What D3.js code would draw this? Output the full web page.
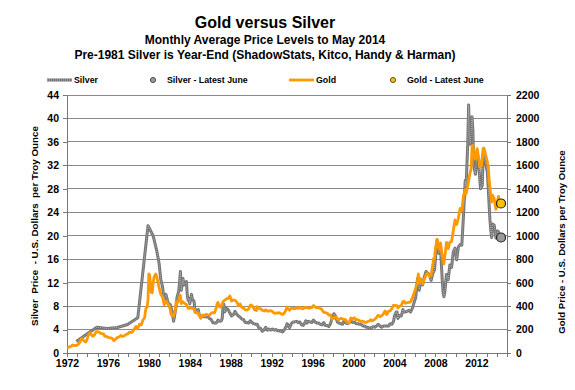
<!DOCTYPE html>
<html><head><meta charset="utf-8">
<script src="https://cdn.jsdelivr.net/npm/d3@7"></script>
<style>
html,body{margin:0;padding:0;background:#fff;}
svg{display:block;font-family:"Liberation Sans",Arial,sans-serif;font-weight:bold;}
</style></head>
<body>
<script>
const titleLines = ["Gold versus Silver","Monthly Average Price Levels to May 2014","Pre-1981 Silver is Year-End (ShadowStats, Kitco, Handy & Harman)"];
const legendLabels = ["Silver","Silver - Latest June","Gold","Gold - Latest June"];
const leftAxisTitle = "Silver  Price  - U.S. Dollars  per Troy Ounce";
const rightAxisTitle = "Gold Price - U.S. Dollars per Troy Ounce";
const silverTicks = [0,4,8,12,16,20,24,28,32,36,40,44];
const goldTicks = [0,200,400,600,800,1000,1200,1400,1600,1800,2000,2200];
const yearLabels = [1972,1976,1980,1984,1988,1992,1996,2000,2004,2008,2012];

const goldDates = [
"1972-01","1972-03","1972-05","1972-07","1972-08","1972-10","1972-12",
"1973-02","1973-04","1973-06","1973-07","1973-09","1973-11","1973-12",
"1974-02","1974-04","1974-06","1974-07","1974-09","1974-11","1974-12",
"1975-02","1975-04","1975-06","1975-08","1975-09","1975-12",
"1976-02","1976-04","1976-06","1976-08","1976-10","1976-12",
"1977-02","1977-04","1977-06","1977-08","1977-10","1977-12",
"1978-02","1978-04","1978-06","1978-08","1978-10","1978-11","1978-12",
"1979-02","1979-04","1979-06","1979-08","1979-09","1979-10","1979-11","1979-12",
"1980-01","1980-02","1980-03","1980-04","1980-05","1980-06","1980-07","1980-09","1980-10","1980-11","1980-12",
"1981-01","1981-03","1981-05","1981-07","1981-09","1981-12",
"1982-02","1982-03","1982-06","1982-08","1982-09","1982-10","1982-12",
"1983-01","1983-02","1983-03","1983-05","1983-07","1983-09","1983-11","1983-12",
"1984-02","1984-04","1984-06","1984-07","1984-09","1984-11","1984-12",
"1985-02","1985-04","1985-06","1985-08","1985-10","1985-12",
"1986-02","1986-04","1986-06","1986-08","1986-09","1986-10","1986-12",
"1987-02","1987-04","1987-06","1987-08","1987-10","1987-12",
"1988-02","1988-04","1988-06","1988-08","1988-10","1988-12",
"1989-02","1989-04","1989-06","1989-08","1989-10","1989-12",
"1990-01","1990-03","1990-05","1990-07","1990-08","1990-10","1990-12",
"1991-02","1991-04","1991-06","1991-08","1991-10","1991-12",
"1992-02","1992-04","1992-06","1992-08","1992-10","1992-12",
"1993-02","1993-04","1993-06","1993-07","1993-08","1993-10","1993-12",
"1994-02","1994-04","1994-06","1994-08","1994-10","1994-12",
"1995-02","1995-04","1995-06","1995-08","1995-10","1995-12",
"1996-02","1996-04","1996-06","1996-08","1996-10","1996-12",
"1997-02","1997-04","1997-06","1997-08","1997-10","1997-12",
"1998-02","1998-04","1998-06","1998-08","1998-10","1998-12",
"1999-02","1999-04","1999-06","1999-07","1999-08","1999-10","1999-12",
"2000-02","2000-04","2000-06","2000-08","2000-10","2000-12",
"2001-02","2001-04","2001-06","2001-08","2001-09","2001-11",
"2002-01","2002-03","2002-05","2002-06","2002-08","2002-10","2002-12",
"2003-02","2003-04","2003-06","2003-08","2003-10","2003-12",
"2004-02","2004-04","2004-05","2004-07","2004-09","2004-11","2004-12",
"2005-02","2005-04","2005-06","2005-08","2005-10","2005-12",
"2006-02","2006-04","2006-05","2006-06","2006-08","2006-10","2006-12",
"2007-02","2007-04","2007-06","2007-08","2007-10","2007-11","2007-12",
"2008-01","2008-03","2008-05","2008-07","2008-09","2008-10","2008-11","2008-12",
"2009-02","2009-04","2009-06","2009-08","2009-10","2009-12",
"2010-02","2010-04","2010-06","2010-08","2010-10","2010-12",
"2011-01","2011-03","2011-05","2011-07","2011-08","2011-09","2011-10","2011-12",
"2012-02","2012-04","2012-05","2012-07","2012-09","2012-10","2012-12",
"2013-02","2013-03","2013-04","2013-05","2013-06","2013-07","2013-08","2013-10","2013-12",
"2014-01","2014-02","2014-03","2014-04","2014-05"];
const goldValues = [
46,48,55,66,67,65,64,
74,90,123,120,103,94,106,
150,170,154,143,151,181,183,
180,170,165,163,144,139,
131,128,125,105,117,134,
136,149,141,145,158,161,
178,175,183,206,227,206,208,
245,239,279,301,355,392,392,455,
675,665,553,517,514,600,645,674,661,623,595,
557,500,480,409,443,410,
375,330,315,364,436,423,447,
481,492,421,437,423,414,382,380,
385,381,378,347,341,341,320,
299,325,317,330,326,322,
338,345,343,384,418,431,391,
401,438,450,461,466,486,
442,452,451,436,406,419,
388,385,367,365,375,409,
410,394,369,362,395,380,378,
364,358,368,357,358,361,
354,338,341,340,344,335,
329,342,372,392,379,365,383,
381,377,386,381,389,379,
377,389,387,383,383,387,
405,393,385,387,380,369,
347,344,341,324,325,289,
297,309,292,284,296,291,
287,282,261,256,257,300,290,
300,284,285,275,270,272,
262,261,270,273,283,276,
282,294,314,322,310,317,333,
359,328,356,360,379,407,
405,404,384,398,406,439,442,
424,429,431,438,470,510,
555,610,675,596,633,586,629,
665,679,655,665,754,806,803,
889,968,889,939,829,806,760,816,
943,890,946,950,1043,1135,
1096,1149,1233,1215,1343,1391,
1357,1424,1512,1573,1759,1772,1666,1652,
1742,1650,1586,1594,1744,1747,1688,
1627,1593,1487,1414,1343,1286,1347,1316,1225,
1244,1300,1336,1299,1288];

const silverDates = [
"1972-12","1973-12","1974-12","1975-12","1976-12","1977-12","1978-12","1979-12","1980-06","1980-10",
"1981-01","1981-03","1981-05","1981-07","1981-09","1981-11","1981-12",
"1982-02","1982-04","1982-06","1982-07","1982-09","1982-10","1982-12",
"1983-01","1983-02","1983-03","1983-04","1983-05","1983-06","1983-08","1983-09","1983-10","1983-11","1983-12",
"1984-01","1984-03","1984-04","1984-06","1984-07","1984-09","1984-11","1984-12",
"1985-02","1985-04","1985-06","1985-08","1985-10","1985-12",
"1986-02","1986-04","1986-06","1986-08","1986-10","1986-12",
"1987-02","1987-03","1987-04","1987-05","1987-06","1987-08","1987-10","1987-12",
"1988-02","1988-04","1988-06","1988-08","1988-10","1988-12",
"1989-02","1989-04","1989-06","1989-08","1989-10","1989-12",
"1990-02","1990-04","1990-06","1990-08","1990-10","1990-12",
"1991-02","1991-04","1991-06","1991-08","1991-10","1991-12",
"1992-02","1992-04","1992-06","1992-08","1992-10","1992-12",
"1993-02","1993-04","1993-06","1993-07","1993-08","1993-10","1993-12",
"1994-02","1994-04","1994-06","1994-08","1994-10","1994-12",
"1995-02","1995-04","1995-05","1995-06","1995-08","1995-10","1995-12",
"1996-02","1996-04","1996-06","1996-08","1996-10","1996-12",
"1997-02","1997-04","1997-06","1997-08","1997-10","1997-12",
"1998-02","1998-04","1998-06","1998-08","1998-10","1998-12",
"1999-02","1999-04","1999-06","1999-08","1999-10","1999-12",
"2000-02","2000-04","2000-06","2000-08","2000-10","2000-12",
"2001-02","2001-04","2001-06","2001-08","2001-10","2001-12",
"2002-02","2002-04","2002-06","2002-08","2002-10","2002-12",
"2003-02","2003-04","2003-06","2003-08","2003-10","2003-12",
"2004-01","2004-03","2004-04","2004-05","2004-07","2004-09","2004-11","2004-12",
"2005-02","2005-04","2005-06","2005-08","2005-10","2005-12",
"2006-02","2006-04","2006-05","2006-06","2006-08","2006-10","2006-12",
"2007-02","2007-04","2007-06","2007-08","2007-10","2007-12",
"2008-01","2008-03","2008-05","2008-07","2008-09","2008-10","2008-11","2008-12",
"2009-02","2009-04","2009-06","2009-08","2009-10","2009-12",
"2010-02","2010-04","2010-06","2010-08","2010-10","2010-12",
"2011-01","2011-03","2011-04","2011-05","2011-06","2011-08","2011-09","2011-10","2011-12",
"2012-02","2012-04","2012-06","2012-08","2012-09","2012-10","2012-12",
"2013-02","2013-04","2013-05","2013-06","2013-07","2013-08","2013-10","2013-12",
"2014-01","2014-02","2014-03","2014-04","2014-05"];
const silverValues = [
1.95,3.2,4.4,4.2,4.35,4.85,6.0,21.7,20.0,17.6,
15.3,12.5,11.3,9.0,10.0,8.9,8.4,
8.3,7.3,5.4,6.2,8.0,9.5,10.5,
12.0,13.9,10.7,11.7,12.7,11.6,12.0,12.2,10.0,9.0,9.3,
8.4,10.0,9.2,8.8,7.4,7.3,7.4,6.6,
6.0,6.4,6.2,6.2,6.2,5.9,
5.7,5.2,5.1,5.1,5.6,5.4,
5.5,5.9,8.0,8.3,7.0,7.6,7.4,6.8,
6.3,6.5,7.1,6.6,6.3,6.1,
5.8,5.7,5.2,5.2,5.1,5.5,
5.2,5.0,4.9,4.9,4.3,4.2,
3.7,3.9,4.4,3.9,4.1,3.9,
4.1,3.9,4.0,3.8,3.8,3.7,
3.6,4.0,4.5,5.0,4.8,4.3,5.0,
5.3,5.3,5.4,5.2,5.3,4.8,
4.7,5.2,5.5,5.1,5.4,5.3,5.2,
5.6,5.3,5.1,5.1,4.9,4.8,
5.2,4.7,4.7,4.5,5.0,6.0,
6.7,6.3,5.3,5.1,5.0,4.9,
5.5,5.1,5.0,5.2,5.4,5.2,
5.3,5.0,5.0,4.9,4.9,4.6,
4.6,4.4,4.4,4.2,4.3,4.5,
4.4,4.6,4.9,4.6,4.4,4.6,
4.6,4.6,4.6,5.0,4.9,5.4,
6.3,7.0,7.0,5.9,6.4,6.3,7.4,7.0,
7.0,7.1,7.3,7.0,7.6,8.6,
9.5,12.6,12.9,10.7,12.3,11.6,12.9,
13.9,13.6,13.4,12.4,13.6,14.2,
15.9,19.3,17.0,17.9,12.6,10.4,9.6,10.3,
13.4,12.5,15.0,14.6,17.2,17.9,
15.9,18.1,18.5,18.4,23.5,29.4,
28.4,35.8,42.3,36.9,35.6,40.3,37.9,31.9,30.5,
34.5,31.6,28.0,28.6,33.4,33.7,32.3,
30.8,25.4,22.7,21.0,19.7,22.0,21.8,19.6,
19.9,20.8,20.7,19.7,19.3];

const latestDate = "2014-06";
const silverLatest = 19.7;
const goldLatest = 1275;

const W = 575, H = 390;
const toYear = s => +s.slice(0,4) + (+s.slice(5,7) - 1) / 12;

const svg = d3.select("body").append("svg").attr("width", W).attr("height", H);

const x = d3.scaleLinear().domain([1972, 2015]).range([67, 507]);
const yS = d3.scaleLinear().domain([0, 44]).range([353, 95]);
const yG = d3.scaleLinear().domain([0, 2200]).range([353, 95]);

// titles
const tSizes = [16, 12, 12], tY = [28, 44, 59];
titleLines.forEach((t, i) => {
  svg.append("text").attr("x", 265).attr("y", tY[i]).attr("text-anchor", "middle")
    .attr("font-size", tSizes[i]).attr("fill", "#000").text(t);
});

// gridlines
svg.append("g").selectAll("line").data(silverTicks.slice(1)).join("line")
  .attr("x1", 67).attr("x2", 507).attr("y1", d => yS(d)).attr("y2", d => yS(d))
  .attr("stroke", "#8a8a8a").attr("stroke-width", 1).attr("shape-rendering", "crispEdges");

// axes
const axisStyle = g => {
  g.selectAll("path").attr("stroke", "#777").attr("shape-rendering", "crispEdges");
  g.selectAll("line").attr("stroke", "#777").attr("shape-rendering", "crispEdges");
  g.selectAll("text").attr("font-size", 10.5).attr("font-weight", "bold").attr("fill", "#000")
    .attr("font-family", "'Liberation Sans',Arial,sans-serif");
};
svg.append("g").attr("transform", "translate(67,0)")
  .call(d3.axisLeft(yS).tickValues(silverTicks).tickSize(4).tickSizeOuter(0).tickPadding(4)
    .tickFormat(d3.format("d")))
  .call(axisStyle);
svg.append("g").attr("transform", "translate(507,0)")
  .call(d3.axisRight(yG).tickValues(goldTicks).tickSize(4).tickSizeOuter(0).tickPadding(5)
    .tickFormat(d3.format("d")))
  .call(axisStyle);
const years = d3.range(1972, 2016);
svg.append("g").attr("transform", "translate(0,353)")
  .call(d3.axisBottom(x).tickValues(years).tickSize(4).tickSizeOuter(0).tickPadding(3)
    .tickFormat(d => yearLabels.includes(d) ? String(d) : ""))
  .call(axisStyle);

// axis titles
svg.append("text").attr("transform", "translate(37.5,226) rotate(-90)").attr("text-anchor", "middle")
  .attr("font-size", 9.8).attr("xml:space", "preserve").style("white-space", "pre").text(leftAxisTitle);
svg.append("text").attr("transform", "translate(565,242) rotate(-90)").attr("text-anchor", "middle")
  .attr("font-size", 9.6).text(rightAxisTitle);

// lines
const silverData = silverDates.map((d, i) => [toYear(d), silverValues[i]]);
const goldData = goldDates.map((d, i) => [toYear(d), goldValues[i]]);
const lineS = d3.line().x(d => x(d[0])).y(d => yS(d[1]));
const lineG = d3.line().x(d => x(d[0])).y(d => yG(d[1]));

svg.append("path").datum(silverData).attr("d", lineS).attr("fill", "none")
  .attr("stroke", "#737373").attr("stroke-width", 3).attr("stroke-linejoin", "round");
svg.append("path").datum(silverData).attr("d", lineS).attr("fill", "none")
  .attr("stroke", "#b8b8b8").attr("stroke-width", 1).attr("stroke-dasharray", "1,1").attr("stroke-linejoin", "round");
svg.append("path").datum(goldData).attr("d", lineG).attr("fill", "none")
  .attr("stroke", "#ff9900").attr("stroke-width", 2.8).attr("stroke-linejoin", "round");

// latest markers
const lx = toYear(latestDate);
svg.append("circle").attr("cx", x(lx)).attr("cy", yS(silverLatest)).attr("r", 4.5)
  .attr("fill", "#9a9a9a").attr("stroke", "#222").attr("stroke-width", 1.2);
svg.append("circle").attr("cx", x(lx)).attr("cy", yG(goldLatest)).attr("r", 4.5)
  .attr("fill", "#ffc000").attr("stroke", "#222").attr("stroke-width", 1.2);

// legend
const lg = svg.append("g").attr("font-size", 8.8);
const ly = 80;
lg.append("line").attr("x1", 47).attr("x2", 72).attr("y1", ly).attr("y2", ly).attr("stroke", "#737373").attr("stroke-width", 3);
lg.append("line").attr("x1", 47).attr("x2", 72).attr("y1", ly).attr("y2", ly).attr("stroke", "#b8b8b8").attr("stroke-width", 1).attr("stroke-dasharray", "1,1");
lg.append("text").attr("x", 74).attr("y", ly + 3).text(legendLabels[0]);
lg.append("circle").attr("cx", 153).attr("cy", ly).attr("r", 2.6).attr("fill", "#9a9a9a").attr("stroke", "#333").attr("stroke-width", 0.8);
lg.append("text").attr("x", 167).attr("y", ly + 3).text(legendLabels[1]);
lg.append("line").attr("x1", 289).attr("x2", 314).attr("y1", ly).attr("y2", ly).attr("stroke", "#ff9900").attr("stroke-width", 2.8);
lg.append("text").attr("x", 316).attr("y", ly + 3).text(legendLabels[2]);
lg.append("circle").attr("cx", 393).attr("cy", ly).attr("r", 2.6).attr("fill", "#ffc000").attr("stroke", "#333").attr("stroke-width", 0.8);
lg.append("text").attr("x", 407).attr("y", ly + 3).text(legendLabels[3]);
</script>
</body></html>
